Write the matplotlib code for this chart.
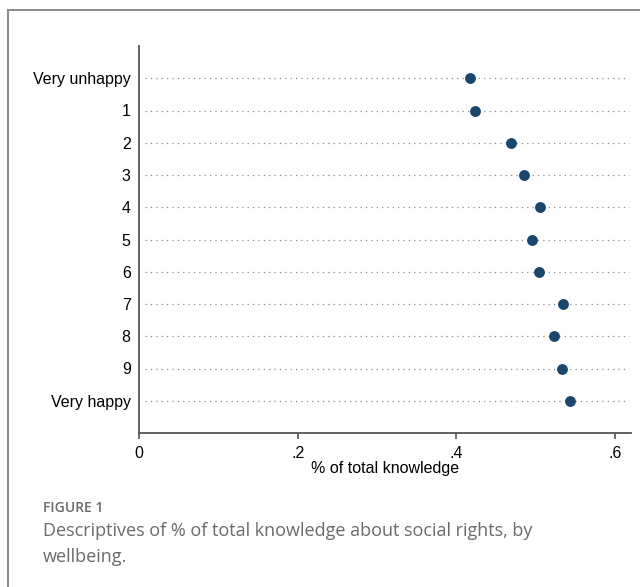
import matplotlib.pyplot as plt
from matplotlib.lines import Line2D

# wellbeing categories, top to bottom
categories = ["Very unhappy", "1", "2", "3", "4", "5", "6", "7", "8", "9", "Very happy"]
knowledge = [0.417, 0.423, 0.469, 0.485, 0.505, 0.495, 0.504, 0.534, 0.523, 0.533, 0.543]
xticks = [0, 0.2, 0.4, 0.6]
xticklabels = ["0", ".2", ".4", ".6"]

plt.rcParams['font.family'] = ['Liberation Sans', 'DejaVu Sans']

fig = plt.figure(figsize=(6.4, 5.87), dpi=100)
ax = fig.add_axes([139 / 640, 154 / 587, 492 / 640, 387 / 587])

ypos = list(range(1, len(categories) + 1))

# dotted guide lines behind each point
for y in ypos:
    ax.plot([0.008, 0.617], [y, y], linestyle=(0, (1, 3.3)), color="#8c8c8c",
            linewidth=0.9, zorder=1)

ax.plot(knowledge, ypos, "o", color="#1a476f", markersize=6.8, zorder=3)

ax.set_xlim(0, 0.62)
ax.set_ylim(len(categories) + 1, 0)
ax.set_yticks(ypos)
ax.set_yticklabels(categories)
ax.set_xticks(xticks)
ax.set_xticklabels(xticklabels)
ax.tick_params(axis="y", length=0, pad=6, labelsize=11.5, colors="black")
ax.tick_params(axis="x", length=4, width=1.2, color="#555555", pad=5,
               labelsize=11.5, labelcolor="black")
ax.set_xlabel("% of total knowledge", fontsize=11.5, labelpad=0)

for side in ["top", "right"]:
    ax.spines[side].set_visible(False)
for side in ["left", "bottom"]:
    ax.spines[side].set_color("#555555")
    ax.spines[side].set_linewidth(1.3)

# outer frame around the figure panel
fig.add_artist(Line2D([8 / 640, 1.0], [1 - 10 / 587, 1 - 10 / 587],
                      transform=fig.transFigure, color="#8a8a8a", linewidth=1.4))
fig.add_artist(Line2D([8 / 640, 8 / 640], [0, 1 - 10 / 587],
                      transform=fig.transFigure, color="#8a8a8a", linewidth=1.4))

fig.text(43 / 640, 1 - 508 / 587, "FIGURE 1", fontsize=10, color="#6a6a6a",
         family=["Open Sans", "DejaVu Sans"], fontweight="semibold", va="center")
fig.text(43 / 640, 1 - 544 / 587,
         "Descriptives of % of total knowledge about social rights, by\nwellbeing.",
         fontsize=13, color="#6a6a6a", family=["Open Sans", "DejaVu Sans"],
         va="center", linespacing=1.5)

fig.savefig("out.png", dpi=100, facecolor="white")
